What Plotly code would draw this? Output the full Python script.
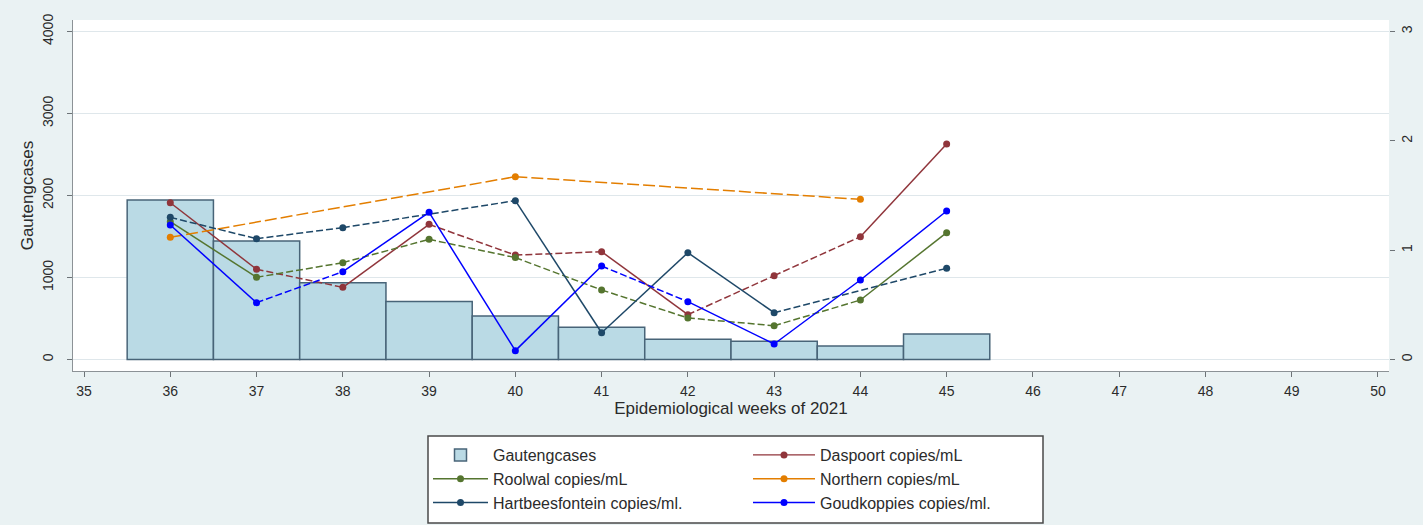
import plotly.graph_objects as go

# Epidemiological weeks of 2021 and weekly Gauteng case counts (left axis)
WEEKS = [36, 37, 38, 39, 40, 41, 42, 43, 44, 45]
GAUTENG_CASES = [1945, 1445, 937, 707, 530, 392, 246, 222, 165, 311]

# Wastewater SARS-CoV-2 concentrations per site (right axis); None = no sample
DASPOORT = [1.434, 0.825, 0.660, 1.236, 0.955, 0.986, 0.410, 0.767, 1.123, 1.971]
ROOLWAL = [1.260, 0.752, 0.886, 1.099, 0.932, 0.636, 0.380, 0.309, 0.544, 1.160]
NORTHERN = [1.118, None, None, None, 1.672, None, None, None, 1.465, None]
HARTBEESFONTEIN = [1.300, 1.105, 1.206, None, 1.453, 0.245, 0.977, 0.428, None, 0.834]
GOUDKOPPIES = [1.230, 0.520, 0.803, 1.346, 0.081, 0.855, 0.529, 0.142, 0.727, 1.358]

X_TICKS = list(range(35, 51))
LEFT_TICKS = [0, 1000, 2000, 3000, 4000]
RIGHT_TICKS = [0, 1, 2, 3]

FONT = "Liberation Sans, Arial, sans-serif"
TEXT = "#2b2b2b"

# name, values, colour, legend, line pattern of each joined segment
SERIES = [
    ("Daspoort copies/mL", DASPOORT, "rgb(144,53,59)", "legend2",
     ["solid", "dash", "solid", "dash", "dash", "solid", "dash", "dash", "solid"]),
    ("Roolwal copies/mL", ROOLWAL, "rgb(85,117,47)", "legend",
     ["solid", "dash", "dash", "dash", "dash", "dash", "dash", "dash", "solid"]),
    ("Northern copies/mL", NORTHERN, "rgb(227,126,0)", "legend2",
     ["long", "long"]),
    ("Hartbeesfontein copies/ml.", HARTBEESFONTEIN, "rgb(30,72,104)", "legend",
     ["dash", "dash", "dash", "solid", "solid", "solid", "dash"]),
    ("Goudkoppies copies/ml.", GOUDKOPPIES, "rgb(0,0,255)", "legend2",
     ["solid", "dash", "solid", "solid", "solid", "dash", "solid", "solid", "solid"]),
]
DASHES = {"solid": "solid", "dash": "7px,3px", "long": "12px,4px"}

fig = go.Figure()

fig.add_trace(go.Bar(
    x=WEEKS, y=GAUTENG_CASES, width=1, name="Gautengcases",
    marker=dict(color="rgb(186,218,229)", line=dict(color="rgb(72,100,120)", width=1.5)),
    yaxis="y", legend="legend",
))

for name, values, colour, legend, patterns in SERIES:
    pts = [(w, v) for w, v in zip(WEEKS, values) if v is not None]
    groups = {}
    for (a, b), pat in zip(zip(pts[:-1], pts[1:]), patterns):
        gx, gy = groups.setdefault(pat, ([], []))
        gx += [a[0], b[0], None]
        gy += [a[1], b[1], None]
    for pat, (gx, gy) in groups.items():
        fig.add_trace(go.Scatter(
            x=gx, y=gy, mode="lines", yaxis="y2", showlegend=False, hoverinfo="skip",
            line=dict(color=colour, width=1.5, dash=DASHES[pat]),
        ))
    fig.add_trace(go.Scatter(
        x=[p[0] for p in pts], y=[p[1] for p in pts], mode="markers", yaxis="y2",
        showlegend=False, name=name, marker=dict(color=colour, size=7),
    ))

# legend entries (solid line with marker)
for name, values, colour, legend, patterns in [SERIES[1], SERIES[3], SERIES[0], SERIES[2], SERIES[4]]:
    fig.add_trace(go.Scatter(
        x=[None], y=[None], mode="lines+markers", name=name, yaxis="y2", legend=legend,
        line=dict(color=colour, width=1.4), marker=dict(color=colour, size=7),
    ))

L, R, T, B = 73, 34, 20, 154
W, H = 1423, 525
PW, PH = W - L - R, H - T - B


def px_x(px):
    return (px - L) / PW


def px_y(py):
    return (H - B - py) / PH


axis_common = dict(
    showline=True, linecolor="#8c9296", linewidth=1.2, ticks="outside", ticklen=5,
    tickcolor="#6d7377", tickfont=dict(size=14, color=TEXT, family=FONT),
    zeroline=False,
)

fig.update_layout(
    width=W, height=H,
    margin=dict(l=L, r=R, t=T, b=B, autoexpand=False),
    paper_bgcolor="#eaf2f3", plot_bgcolor="#ffffff",
    font=dict(family=FONT, color=TEXT),
    barmode="overlay",
    xaxis=dict(
        **axis_common, range=[34.872, 50.128], tickvals=X_TICKS, showgrid=False,
        ticklabelstandoff=2,
        title=dict(text="Epidemiological weeks of 2021", font=dict(size=17), standoff=4),
    ),
    yaxis=dict(
        **axis_common, range=[-140, 4140], tickvals=LEFT_TICKS, tickangle=-90,
        showgrid=True, gridcolor="#dfe7eb", gridwidth=1, ticklabelstandoff=8,
        title=dict(text="Gautengcases", font=dict(size=17), standoff=2),
    ),
    yaxis2=dict(
        overlaying="y", side="right", range=[-0.105, 3.105], tickvals=RIGHT_TICKS,
        tickangle=-90, showgrid=False, showline=False, zeroline=False,
        ticks="outside", ticklen=5, tickcolor="#6d7377",
        tickfont=dict(size=14, color=TEXT, family=FONT),
    ),
    legend=dict(
        x=px_x(428), y=px_y(438), xanchor="left", yanchor="top",
        bgcolor="rgba(0,0,0,0)", borderwidth=0, itemwidth=55,
        font=dict(size=16, color=TEXT, family=FONT), tracegroupgap=0,
    ),
    legend2=dict(
        x=px_x(748), y=px_y(438), xanchor="left", yanchor="top",
        bgcolor="rgba(0,0,0,0)", borderwidth=0, itemwidth=62,
        font=dict(size=16, color=TEXT, family=FONT), tracegroupgap=0,
    ),
    shapes=[dict(
        type="rect", xref="paper", yref="paper",
        x0=px_x(428), x1=px_x(1043), y0=px_y(523), y1=px_y(436),
        line=dict(color="#4a4a4a", width=1.5), fillcolor="white", layer="below",
    )],
)

fig.write_html("out.html")
